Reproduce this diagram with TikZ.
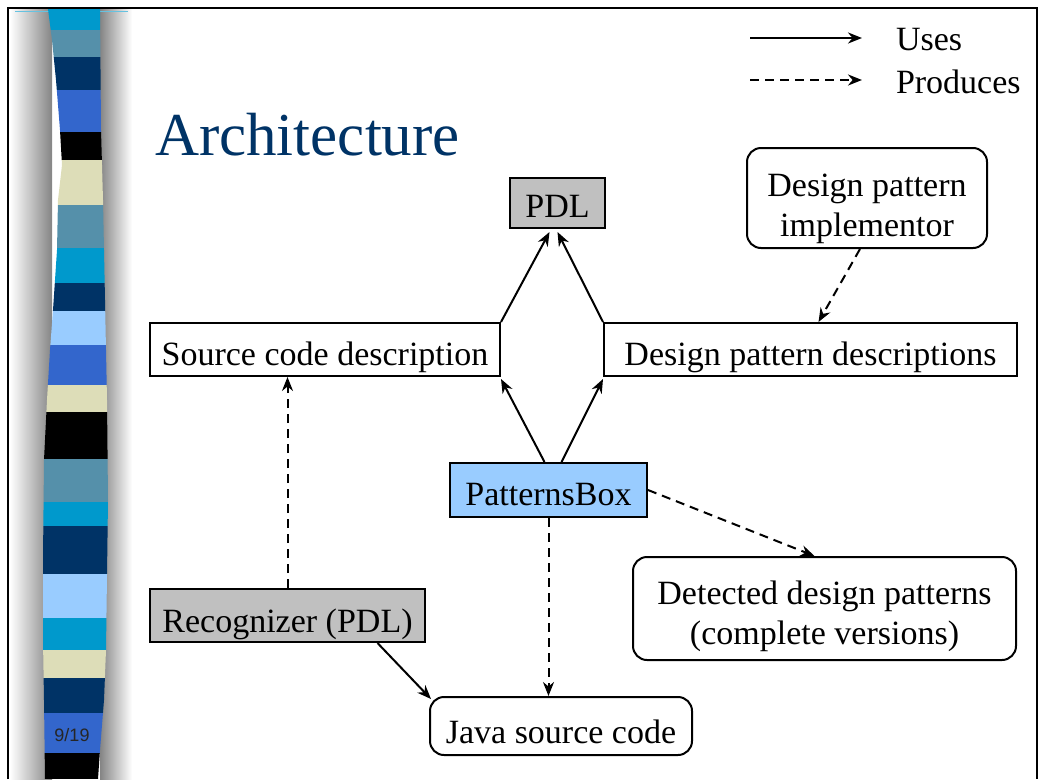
\documentclass[tikz,border=0pt]{standalone}
\usepackage{fontspec}
\setmainfont{Liberation Serif}
\setsansfont{Liberation Sans}
\usetikzlibrary{arrows.meta}

\definecolor{titleblue}{HTML}{003366}
\definecolor{boxgray}{HTML}{C0C0C0}
\definecolor{boxblue}{HTML}{99CCFF}
\definecolor{bandcyan}{HTML}{0099CC}
\definecolor{bandsteel}{HTML}{5590AA}
\definecolor{bandnavy}{HTML}{003366}
\definecolor{bandroyal}{HTML}{3366CC}
\definecolor{bandsky}{HTML}{99CCFF}
\definecolor{bandbeige}{HTML}{DDDDB8}

\newcommand{\boxfont}{\fontsize{34}{40}\selectfont}

\begin{document}
\begin{tikzpicture}[x=1pt,y=-1pt,line width=2pt,>={Stealth[length=14pt,width=11pt]}]
    \tikzstyle{plain box}=[draw,inner sep=0pt,font=\boxfont,align=center,text depth=0pt,text height=31pt]
    \tikzstyle{tool box}=[plain box,fill=boxgray]
    \tikzstyle{actor box}=[plain box,rounded corners=14pt]
    \tikzstyle{uses}=[->]
    \tikzstyle{produces}=[->,dash pattern=on 9pt off 6pt]

    \useasboundingbox (0,0) rectangle (1038,779);

    % Slide frame
    \draw (8,779) |- (1037,8) -- (1037,779);

    % Grey shading on both sides of the stripe
    \shade[left color=white,right color=black!48] (10,9) rectangle (52,779);
    \shade[left color=black!48,right color=white] (100,9) rectangle (132,779);
    \draw[bandcyan!60,line width=0.8pt] (15,11) -- (128,11);

    % Coloured stripe on the left
    \begin{scope}
        \clip (48,9) -- (52,40) -- (56,80) -- (60,130) -- (62,165) -- (58,200)
            -- (57,250) -- (53,310) -- (50,350) -- (47,400) -- (44,460)
            -- (43,560) -- (43,640) -- (44,700) -- (45,779) -- (98,779)
            -- (100,750) -- (104,700) -- (106,650) -- (108,500) -- (107,400)
            -- (105,300) -- (103,200) -- (101,130) -- (100,9) -- cycle;
        \foreach \ya/\yb/\col in {9/30/bandcyan,30/57/bandsteel,57/90/bandnavy,
            90/132/bandroyal,132/160/black,160/205/bandbeige,205/248/bandsteel,
            248/283/bandcyan,283/311/bandnavy,311/345/bandsky,345/385/bandroyal,
            385/412/bandbeige,412/459/black,459/502/bandsteel,502/526/bandcyan,
            526/574/bandnavy,574/618/bandsky,618/650/bandcyan,650/678/bandbeige,
            678/713/bandnavy,713/753/bandroyal,753/779/black}
            \fill[\col] (40,\ya) rectangle (115,\yb);
    \end{scope}
    \node[font=\sffamily\fontsize{18}{20}\selectfont,text=black!85] (page) at (72,735) {9/19};

    % Title
    \node[anchor=base west,text=titleblue,font=\fontsize{61}{70}\selectfont,inner sep=0pt] (title) at (154,155) {Architecture};

    % Legend
    \coordinate (u1) at (750,38);
    \coordinate (u2) at (862,38);
    \coordinate (p1) at (750,80);
    \coordinate (p2) at (862,80);
    \node[anchor=west,font=\boxfont,inner sep=0pt] (uses label) at (895,40) {Uses};
    \node[anchor=west,font=\boxfont,inner sep=0pt] (produces label) at (895,82) {Produces};
    \draw[uses] (u1) -- (u2);
    \draw[produces] (p1) -- (p2);

    % Boxes
    \node[tool box,minimum width=95pt,minimum height=50pt,text height=28pt] (pdl) at (557.5,203) {PDL};
    \node[actor box,minimum width=240pt,minimum height=100pt,text height=76pt] (impl) at (867,198) {Design pattern\\implementor};
    \node[plain box,minimum width=350pt,minimum height=53pt] (src) at (325,349.5) {Source code description};
    \node[plain box,minimum width=413pt,minimum height=53pt] (dpd) at (810.5,349.5) {Design pattern descriptions};
    \node[plain box,fill=boxblue,minimum width=197pt,minimum height=54pt,text height=30pt] (pbox) at (548.5,490) {PatternsBox};
    \node[actor box,minimum width=383pt,minimum height=103pt,text height=71pt] (detected) at (824.5,608.5) {Detected design patterns\\(complete versions)};
    \node[tool box,minimum width=275pt,minimum height=53pt,text height=34pt] (recog) at (287.5,615.5) {Recognizer (PDL)};
    \node[actor box,minimum width=262pt,minimum height=58pt,text height=35pt] (java) at (561,726) {Java source code};

    % Uses
    \draw[uses] (src.north east) -- ([xshift=-8pt,yshift=-3pt]pdl.south);
    \draw[uses] (dpd.north west) -- ([yshift=-3pt]pdl.south);
    \draw[uses] ([xshift=-4pt]pbox.north) -- ([yshift=-2pt]src.south east);
    \draw[uses] ([xshift=13pt]pbox.north) -- ([yshift=-2pt]dpd.south west);
    \draw[uses] ([xshift=90pt]recog.south) -- ([xshift=2pt,yshift=-3pt]java.north west);

    % Produces
    \draw[produces] ([xshift=-7pt]impl.south) -- ([xshift=8pt]dpd.north);
    \draw[produces] (pbox.east) -- ([xshift=-10pt]detected.north);
    \draw[produces] (pbox.south) -- (pbox.south |- java.north);
    \draw[produces] (recog.north) -- (recog.north |- src.south);
\end{tikzpicture}
\end{document}
